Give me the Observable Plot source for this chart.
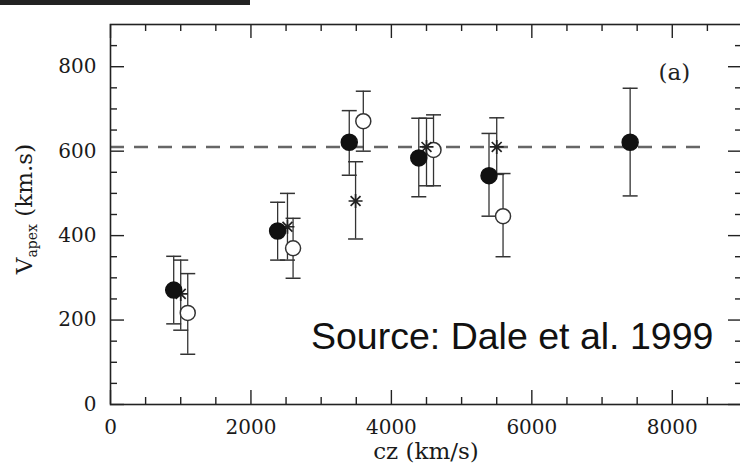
<!DOCTYPE html>
<html>
<head>
<meta charset="utf-8">
<script src="https://cdn.jsdelivr.net/npm/d3@7"></script>
<script src="https://cdn.jsdelivr.net/npm/@observablehq/plot@0.6"></script>
<style>
  html, body { margin: 0; padding: 0; background: #fff; }
  #wrap { position: relative; width: 740px; height: 469px; overflow: hidden; background: #fff; }
  #bar { position: absolute; left: 0; top: 0; width: 250px; height: 5px; background: #222; }
  #chart { position: absolute; left: 0; top: 0; }
</style>
</head>
<body>
<div id="wrap"><div id="chart"></div><div id="bar"></div></div>
<script>
// ---- data ----
const filledX  = [900, 2380, 3400, 4390, 5390, 7400];
const filledY  = [271, 411, 621, 584, 542, 621];
const filledLo = [191, 342, 543, 492, 446, 494];
const filledHi = [351, 479, 696, 678, 642, 749];

const openX  = [1100, 2600, 3600, 4600, 5590];
const openY  = [217, 370, 671, 603, 446];
const openLo = [119, 299, 600, 518, 350];
const openHi = [310, 441, 742, 686, 547];

const starX  = [1000, 2520, 3490, 4500, 5500];
const starY  = [262, 421, 482, 610, 610];
const starLo = [176, 342, 392, 518, 545];
const starHi = [342, 500, 575, 678, 679];

const meanApex = 610;
const meanRange = [0, 8500];

const xMajor = [0, 2000, 4000, 6000, 8000];
const xMinor = [500, 1000, 1500, 2500, 3000, 3500, 4500, 5000, 5500, 6500, 7000, 7500, 8500];
const yMajor = [0, 200, 400, 600, 800];
const yMinor = [50, 100, 150, 250, 300, 350, 450, 500, 550, 650, 700, 750, 850];

const panelLabel = "(a)";
const xLabel = "cz (km/s)";
const sourceText = "Source: Dale et al. 1999";

// ---- build tables ----
const mk = (xs, ys, lo, hi) => xs.map((x, i) => ({x, y: ys[i], lo: lo[i], hi: hi[i]}));
const filled = mk(filledX, filledY, filledLo, filledHi);
const open = mk(openX, openY, openLo, openHi);
const star = mk(starX, starY, starLo, starHi);
const all = [...filled, ...open, ...star];

const capSym = { draw(ctx, size) { const r = Math.sqrt(size / Math.PI); ctx.moveTo(-r, 0); ctx.lineTo(r, 0); } };
const astSym = { draw(ctx, size) {
  const r = Math.sqrt(size / Math.PI);
  for (const a of [0, Math.PI / 4, Math.PI / 2, 3 * Math.PI / 4]) {
    ctx.moveTo(r * Math.cos(a), r * Math.sin(a));
    ctx.lineTo(-r * Math.cos(a), -r * Math.sin(a));
  }
} };

const W = 740, H = 469, ML = 110, MR = -2, MT = 24, MB = 65;
const FW = W - ML - MR, FH = H - MT - MB;
const ink = "#222";

const plot = Plot.plot({
  width: W, height: H,
  marginLeft: ML, marginRight: MR, marginTop: MT, marginBottom: MB,
  x: {domain: [0, 9000]},
  y: {domain: [0, 900]},
  style: {fontFamily: "'DejaVu Serif', serif", fontSize: "20px", color: "#1a1a1a", background: "transparent", overflow: "visible"},
  marks: [
    Plot.ruleY([meanApex], {x1: meanRange[0], x2: meanRange[1], stroke: "#666", strokeWidth: 2.5, strokeDasharray: "14,10"}),
    // inward ticks on all four sides
    Plot.tickX(xMajor, {x: d => d, insetTop: FH - 14, stroke: ink, strokeWidth: 1.4}),
    Plot.tickX(xMinor, {x: d => d, insetTop: FH - 7, stroke: ink, strokeWidth: 1.4}),
    Plot.tickX(xMajor, {x: d => d, insetBottom: FH - 14, stroke: ink, strokeWidth: 1.4}),
    Plot.tickX(xMinor, {x: d => d, insetBottom: FH - 7, stroke: ink, strokeWidth: 1.4}),
    Plot.tickY(yMajor, {y: d => d, insetRight: FW - 14, stroke: ink, strokeWidth: 1.4}),
    Plot.tickY(yMinor, {y: d => d, insetRight: FW - 7, stroke: ink, strokeWidth: 1.4}),
    Plot.tickY(yMajor, {y: d => d, insetLeft: FW - 14, stroke: ink, strokeWidth: 1.4}),
    Plot.tickY(yMinor, {y: d => d, insetLeft: FW - 7, stroke: ink, strokeWidth: 1.4}),
    Plot.frame({stroke: ink, strokeWidth: 1.6}),
    Plot.axisX({ticks: xMajor, tickSize: 0, tickPadding: 15, tickFormat: d => String(d), label: null}),
    Plot.axisY({ticks: yMajor, tickSize: 0, tickPadding: 14, tickFormat: d => String(d), label: null}),
    // error bars
    Plot.ruleX(all, {x: "x", y1: "lo", y2: "hi", stroke: "#333", strokeWidth: 1.3}),
    Plot.dot(all, {x: "x", y: "lo", symbol: capSym, r: 7.5, fill: "none", stroke: "#333", strokeWidth: 1.5}),
    Plot.dot(all, {x: "x", y: "hi", symbol: capSym, r: 7.5, fill: "none", stroke: "#333", strokeWidth: 1.5}),
    // markers
    Plot.dot(open, {x: "x", y: "y", r: 7.5, fill: "white", stroke: "#333", strokeWidth: 1.5}),
    Plot.dot(star, {x: "x", y: "y", symbol: astSym, r: 7, fill: "none", stroke: "#222", strokeWidth: 1.7}),
    Plot.dot(filled, {x: "x", y: "y", r: 8, fill: "#111", stroke: "#111"}),
    Plot.text([panelLabel], {x: 8030, y: 785, text: d => d, fontSize: 23, fill: "#222"})
  ]
});

document.getElementById("chart").appendChild(plot);

const svg = d3.select(plot);
// x axis label
svg.append("text")
  .attr("x", ML + FW / 2).attr("y", 459)
  .attr("text-anchor", "middle")
  .attr("font-family", "'DejaVu Serif', serif").attr("font-size", 23).attr("fill", "#1a1a1a")
  .text(xLabel);
// y axis label with subscript
const yl = svg.append("text")
  .attr("transform", "translate(32,209) rotate(-90)")
  .attr("text-anchor", "middle")
  .attr("font-family", "'DejaVu Serif', serif").attr("font-size", 23).attr("fill", "#1a1a1a");
yl.append("tspan").text("V");
yl.append("tspan").attr("font-size", 14).attr("dy", 5).text("apex");
yl.append("tspan").attr("dy", -5).text(" (km.s)");
// source note
svg.append("text")
  .attr("x", 311).attr("y", 349)
  .attr("text-anchor", "start")
  .attr("font-family", "'Liberation Sans', Arial, sans-serif").attr("font-size", 37.5).attr("fill", "#111")
  .text(sourceText);
</script>
</body>
</html>
